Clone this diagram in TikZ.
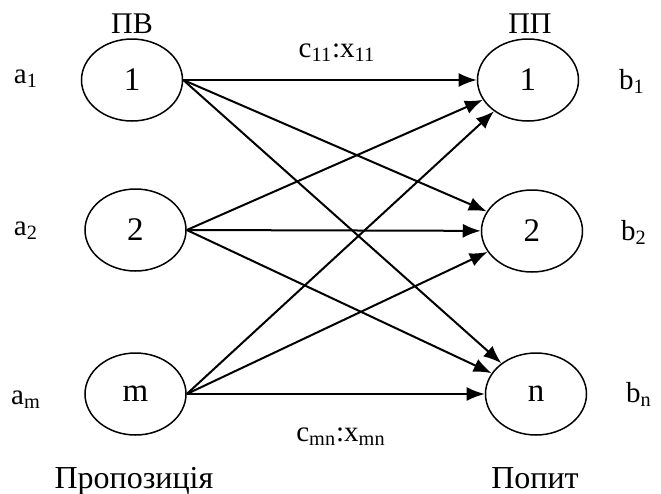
\documentclass[tikz,border=0pt]{standalone}
\usepackage{fontspec}
\setmainfont{Liberation Serif}
\usetikzlibrary{shapes.geometric,arrows.meta}
\begin{document}
\begin{tikzpicture}[x=0.5pt,y=-0.5pt,
  ell/.style={ellipse,draw,line width=0.75pt,minimum width=50.5pt,minimum height=41pt,inner sep=0pt,font=\fontsize{16.5}{18}\selectfont},
  arr/.style={line width=1pt,-{Latex[length=9pt,width=7pt]}},
  lbl/.style={anchor=base,inner sep=0pt,font=\fontsize{14.5}{16}\selectfont},
  hdr/.style={anchor=base,inner sep=0pt,font=\fontsize{15}{17}\selectfont},
  big/.style={anchor=base,inner sep=0pt,font=\fontsize{16}{18}\selectfont}]
\useasboundingbox (0,0) rectangle (661,494);
\node[ell] (L1) at (132,80) {1};
\node[ell] (L2) at (135.5,230) {2};
\node[ell] (Lm) at (135.5,394) {m};
\node[ell] (R1) at (528,80) {1};
\node[ell] (R2) at (532,231) {2};
\node[ell] (Rn) at (536,394) {n};
\node[hdr] (tPV) at (132,33) {ПВ};
\node[hdr] (tPP) at (530,33) {ПП};
\node[lbl] (a1) at (26,83) {a\textsubscript{1}};
\node[lbl] (a2) at (26,235) {a\textsubscript{2}};
\node[lbl] (am) at (26,404) {a\textsubscript{m}};
\node[lbl] (b1) at (632,89) {b\textsubscript{1}};
\node[lbl] (b2) at (634,240) {b\textsubscript{2}};
\node[lbl] (bn) at (639,402) {b\textsubscript{n}};
\node[lbl] (c11) at (337,57) {c\textsubscript{11}:x\textsubscript{11}};
\node[lbl] (cmn) at (341,441) {c\textsubscript{mn}:x\textsubscript{mn}};
\node[big] (sup) at (134,488) {Пропозиція};
\node[big] (dem) at (535,488) {Попит};
\foreach \s in {L1,L2,Lm}{
  \foreach \t in {R1,R2,Rn}{
    \draw[arr] (\s.east) -- (\t);
  }
}
\end{tikzpicture}
\end{document}
